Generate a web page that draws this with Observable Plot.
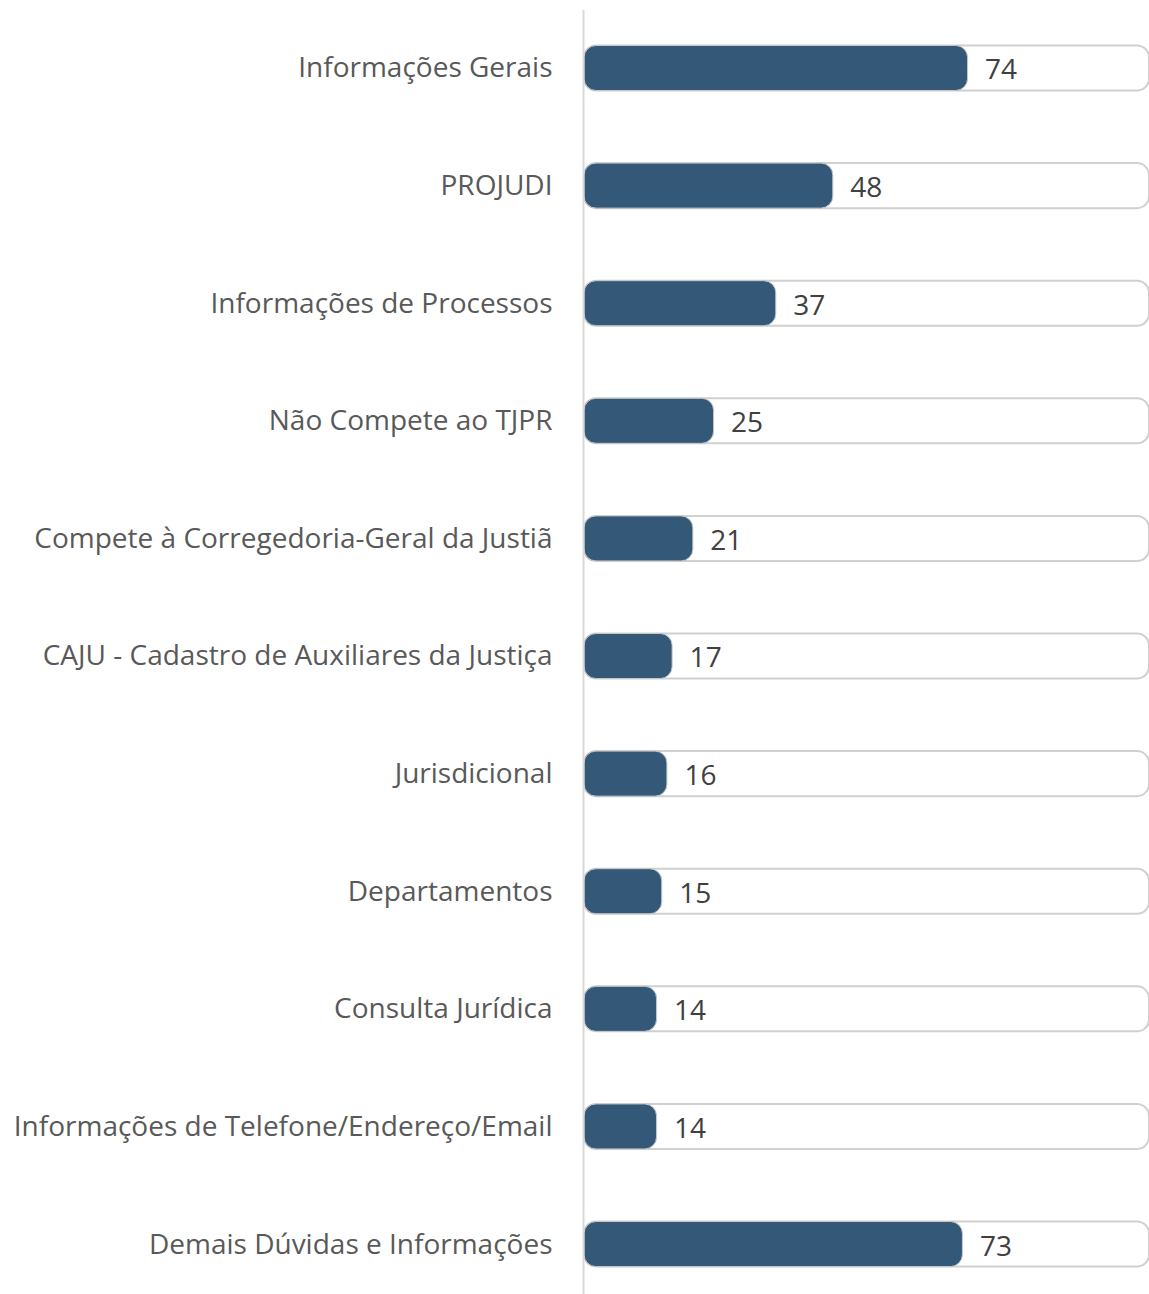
<!DOCTYPE html>
<html>
<head>
<meta charset="utf-8">
<script src="https://cdn.jsdelivr.net/npm/d3@7"></script>
<script src="https://cdn.jsdelivr.net/npm/@observablehq/plot@0.6"></script>
<style>
  html, body { margin: 0; padding: 0; background: #fff; }
  #chart svg { display: block; font-family: "Open Sans", sans-serif; }
</style>
</head>
<body>
<div id="chart"></div>
<script>
const categories = [
  "Informações Gerais",
  "PROJUDI",
  "Informações de Processos",
  "Não Compete ao TJPR",
  "Compete à Corregedoria-Geral da Justiã",
  "CAJU - Cadastro de Auxiliares da Justiça",
  "Jurisdicional",
  "Departamentos",
  "Consulta Jurídica",
  "Informações de Telefone/Endereço/Email",
  "Demais Dúvidas e Informações"
];
const values = [74, 48, 37, 25, 21, 17, 16, 15, 14, 14, 73];
const trackMax = 109;

const data = categories.map((c, i) => ({category: c, value: values[i], track: trackMax}));

const chart = Plot.plot({
  width: 1149,
  height: 1294,
  marginLeft: 584,
  marginRight: 0,
  marginTop: 10,
  marginBottom: 0,
  style: {fontFamily: "'Open Sans', sans-serif", background: "#fff"},
  x: {domain: [0, trackMax], axis: null},
  y: {domain: categories, paddingInner: 0.617, paddingOuter: 0.2675, align: 0.564, round: false, label: null},
  marks: [
    Plot.barX(data, {y: "category", x: "track", fill: "#fff", stroke: "#d0d0d0", strokeWidth: 2, rx: 12}),
    Plot.barX(data, {y: "category", x: "value", fill: "#345878", stroke: "#c8c8c8", strokeWidth: 1, rx: 12}),
    Plot.ruleX([0], {stroke: "#d9d9d9", strokeWidth: 2, dx: -1}),
    Plot.text(data, {y: "category", x: "value", text: d => String(d.value), textAnchor: "start", dx: 17, dy: 2, fontSize: 28, fill: "#404040"}),
    Plot.axisY({tickSize: 0, tickPadding: 32, fontSize: 28, color: "#595959", label: null})
  ]
});
document.getElementById("chart").appendChild(chart);
</script>
</body>
</html>
